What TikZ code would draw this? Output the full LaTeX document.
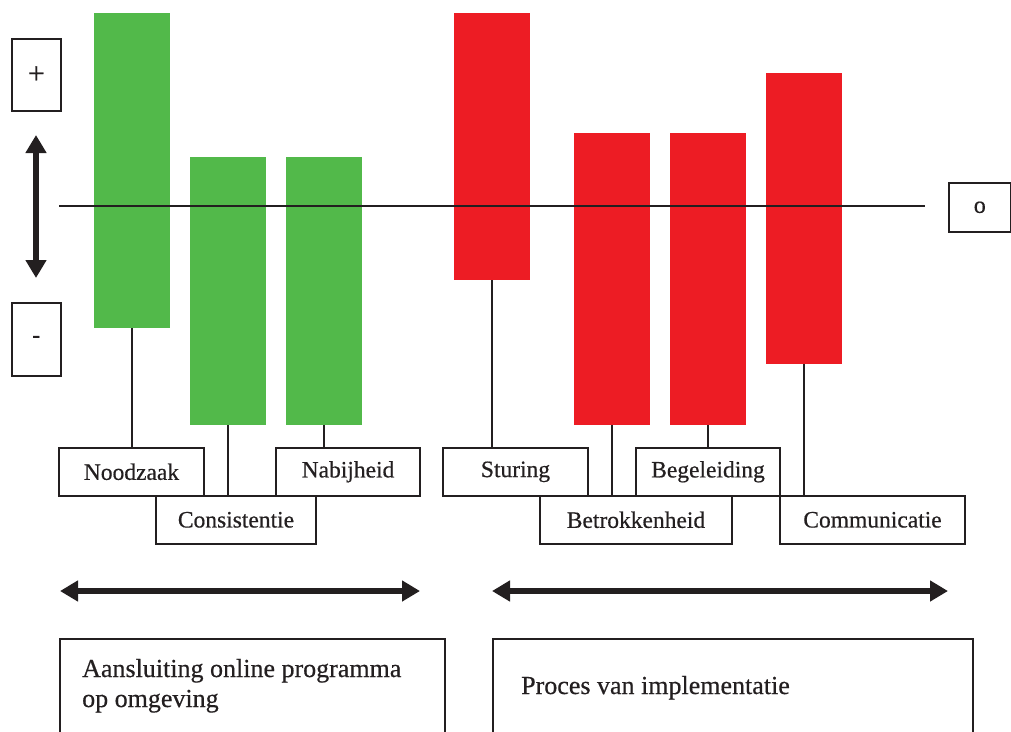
\documentclass[tikz,border=0pt]{standalone}
\usepackage{fontspec}
\setmainfont{Liberation Serif}[FakeBold=0.5]
\usetikzlibrary{arrows.meta}
\definecolor{barG}{RGB}{82,185,74}
\definecolor{barR}{RGB}{237,28,36}
\definecolor{ink}{RGB}{35,31,32}
\tikzset{
 bar/.style={draw=none, inner sep=0pt, anchor=north west, minimum width=76pt},
 gbar/.style={bar, fill=barG},
 rbar/.style={bar, fill=barR},
 lbl/.style={draw=ink, line width=1.6pt, fill=white, inner sep=0pt, anchor=north west,
   minimum height=48pt, font=\fontsize{23.5}{28}\selectfont, text=ink},
 signbox/.style={draw=ink, line width=1.6pt, fill=white, inner sep=0pt, anchor=north west,
   font=\fontsize{24}{28}\selectfont, text=ink},
 bigbox/.style={draw=ink, line width=1.6pt, inner sep=0pt, anchor=north west, minimum height=150pt},
 bigtext/.style={anchor=base west, inner sep=0pt, align=left, text=ink, font=\fontsize{26}{30}\selectfont},
 conn/.style={draw=ink, line width=1.5pt},
 axis/.style={draw=ink, line width=1.3pt},
 bigarrow/.style={draw=ink, line width=5.5pt, {Triangle[width=20pt,length=18pt]}-{Triangle[width=20pt,length=18pt]}},
}
\begin{document}
\begin{tikzpicture}[x=1pt,y=-1pt]
\useasboundingbox (0,0) rectangle (1011,731);
% bars
\node[gbar, minimum height=315pt] (g1) at (94,13) {};
\node[gbar, minimum height=268pt] (g2) at (190,157) {};
\node[gbar, minimum height=268pt] (g3) at (286,157) {};
\node[rbar, minimum height=267pt] (r1) at (454,13) {};
\node[rbar, minimum height=292pt] (r2) at (574,133) {};
\node[rbar, minimum height=292pt] (r3) at (670,133) {};
\node[rbar, minimum height=291pt] (r4) at (766,73) {};
% label box positions (coordinates), connectors first, boxes on top
\coordinate (noodTop) at (131.5,447);
\coordinate (nabijTop) at (348,447);
\coordinate (consTop) at (236,495);
\coordinate (sturTop) at (515.5,447);
\coordinate (begelTop) at (708,447);
\coordinate (betrTop) at (636,495);
\coordinate (commTop) at (872.5,495);
\draw[conn] (g1.south) -- (g1.south |- noodTop);
\draw[conn] (g2.south) -- (g2.south |- consTop);
\draw[conn] (g3.south) -- (g3.south |- nabijTop);
\draw[conn] (r1.south) -- (r1.south |- sturTop);
\draw[conn] (r2.south) -- (r2.south |- betrTop);
\draw[conn] (r3.south) -- (r3.south |- begelTop);
\draw[conn] (r4.south) -- (r4.south |- commTop);
% label boxes
\node[lbl, minimum width=145pt, anchor=north] (nood) at (noodTop) {Noodzaak};
\node[lbl, minimum width=144pt, anchor=north] (nabij) at (nabijTop) {Nabijheid};
\node[lbl, minimum width=160pt, anchor=north] (cons) at (consTop) {Consistentie};
\node[lbl, minimum width=145pt, anchor=north] (stur) at (sturTop) {Sturing};
\node[lbl, minimum width=144pt, anchor=north] (begel) at (begelTop) {Begeleiding};
\node[lbl, minimum width=192pt, anchor=north] (betr) at (betrTop) {Betrokkenheid};
\node[lbl, minimum width=185pt, anchor=north] (comm) at (commTop) {Communicatie};
% axis
\coordinate (axL) at (59,206);
\coordinate (axR) at (925,206);
\draw[axis] (axL) -- (axR);
% sign boxes
\node[signbox, minimum width=49pt, minimum height=72pt, font=\fontsize{30}{34}\selectfont] (plus) at (11,38) {+};
\node[signbox, minimum width=49pt, minimum height=73pt] (minus) at (11,302) {-};
\node[signbox, minimum width=62pt, minimum height=49pt] (zero) at (948,182) {o};
% vertical arrow
\coordinate (vT) at (36,135);
\coordinate (vB) at (36,278);
\draw[bigarrow] (vT) -- (vB);
% horizontal arrows
\coordinate (hL1) at (60,591);
\coordinate (hR1) at (420,591);
\coordinate (hL2) at (492,591);
\coordinate (hR2) at (948,591);
\draw[bigarrow] (hL1) -- (hR1);
\draw[bigarrow] (hL2) -- (hR2);
% bottom boxes
\node[bigbox, minimum width=385pt] (aan) at (59,638) {};
\node[bigtext] (aant) at (82,707) {Aansluiting online programma\\op omgeving};
\node[bigbox, minimum width=480pt] (proc) at (492,638) {};
\node[bigtext] (proct) at (521,694) {Proces van implementatie};
\end{tikzpicture}
\end{document}
